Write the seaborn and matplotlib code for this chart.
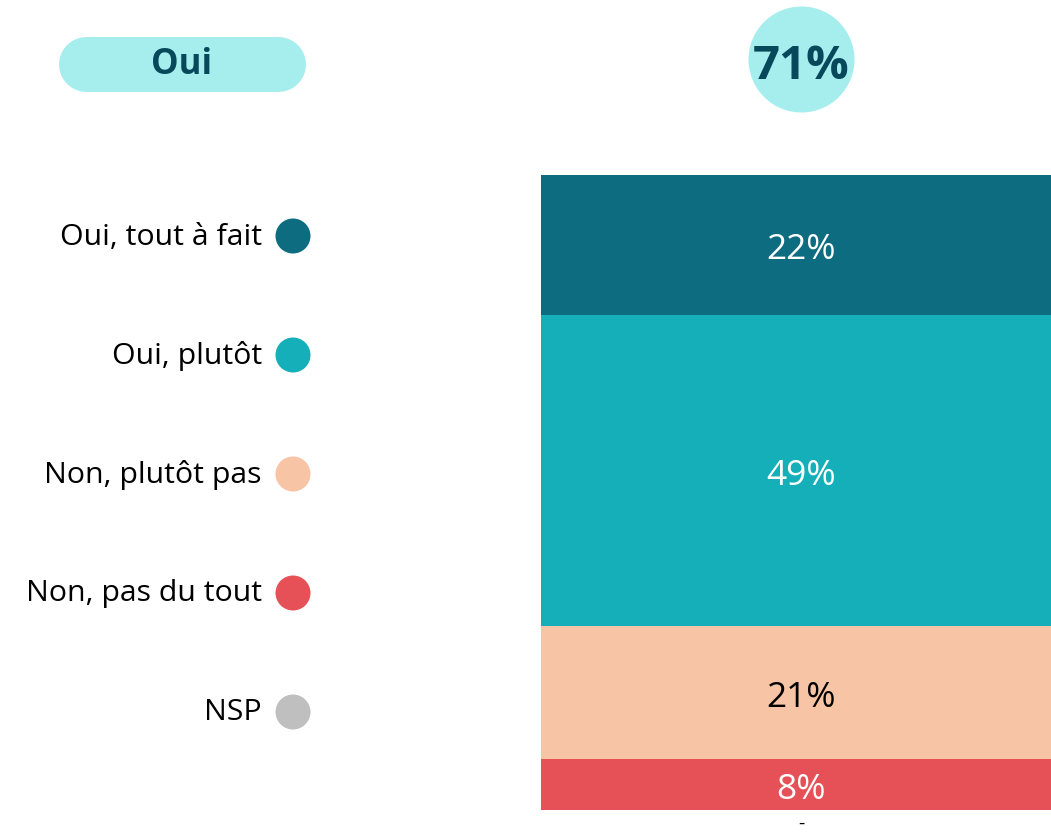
import matplotlib
matplotlib.use("Agg")
import matplotlib.pyplot as plt
import seaborn as sns
import pandas as pd

# data
categories = ["Oui, tout à fait", "Oui, plutôt", "Non, plutôt pas", "Non, pas du tout", "NSP"]
values = [22, 49, 21, 8, 0]
colors = ["#0E6C81", "#14AFB8", "#F7C4A5", "#E65158", "#BFBFBF"]
group_label = "Oui"
group_total = values[0] + values[1]

sns.set_theme(style="white")
plt.rcParams["font.family"] = ["Open Sans", "DejaVu Sans"]

W, H = 1051, 834
fig = plt.figure(figsize=(W / 100, H / 100), dpi=100)

# stacked bar axes
ax = fig.add_axes([541 / W, (H - 810) / H, (W - 541) / W, 635 / H])
df = pd.DataFrame({"cat": categories, "val": values, "color": colors})
df["cum"] = df["val"].cumsum()
df["mid"] = df["cum"] - df["val"] / 2

# draw from the longest cumulative bar down so each segment shows
for i in reversed(range(len(df))):
    if df["val"][i] == 0:
        continue
    sns.barplot(x=["Total"], y=[df["cum"][i]], color=df["color"][i], width=1.0,
                saturation=1, ax=ax, linewidth=0)
ax.set_xlim(-0.5, 0.48)
ax.set_ylim(100, 0)
ax.axis("off")

for i, row in df.iterrows():
    if row["val"] == 0:
        # empty category shown as a dash under the bar
        ax.text(0, 103.6, "-", ha="center", va="bottom", fontsize=14, color="black", clip_on=False)
        continue
    tc = "black" if row["color"] == "#F7C4A5" else "white"
    ax.text(0, row["mid"] + 0.85, f"{row['val']}%", ha="center", va="center", fontsize=25.5, color=tc)

# overlay in pixel coordinates for legend and header
ov = fig.add_axes([0, 0, 1, 1], zorder=-1)
ov.set_xlim(0, W)
ov.set_ylim(H, 0)
ov.axis("off")

leg_y = [236 + 119 * i for i in range(len(categories))]
sns.scatterplot(x=[293] * len(categories), y=leg_y, hue=categories, palette=colors,
                s=(35 * 0.72) ** 2, legend=False, linewidth=0, ax=ov)
for cat, y in zip(categories, leg_y):
    ov.text(262, y + 1, cat, ha="right", va="center", fontsize=21.8, color="black")

# pill header
ov.plot([86, 278], [63.5, 63.5], lw=55 * 0.72, color="#A6EEEE", solid_capstyle="round")
ov.text(182, 65, group_label, ha="center", va="center", fontsize=25, fontweight="bold", color="#07495A")

# total circle
ov.scatter([801], [59], s=(106 * 0.72) ** 2, color="#A6EEEE", linewidths=0)
ov.text(801, 66, f"{group_total}%", ha="center", va="center", fontsize=34, fontweight="bold", color="#07495A")

fig.savefig("out.png", dpi=100)
